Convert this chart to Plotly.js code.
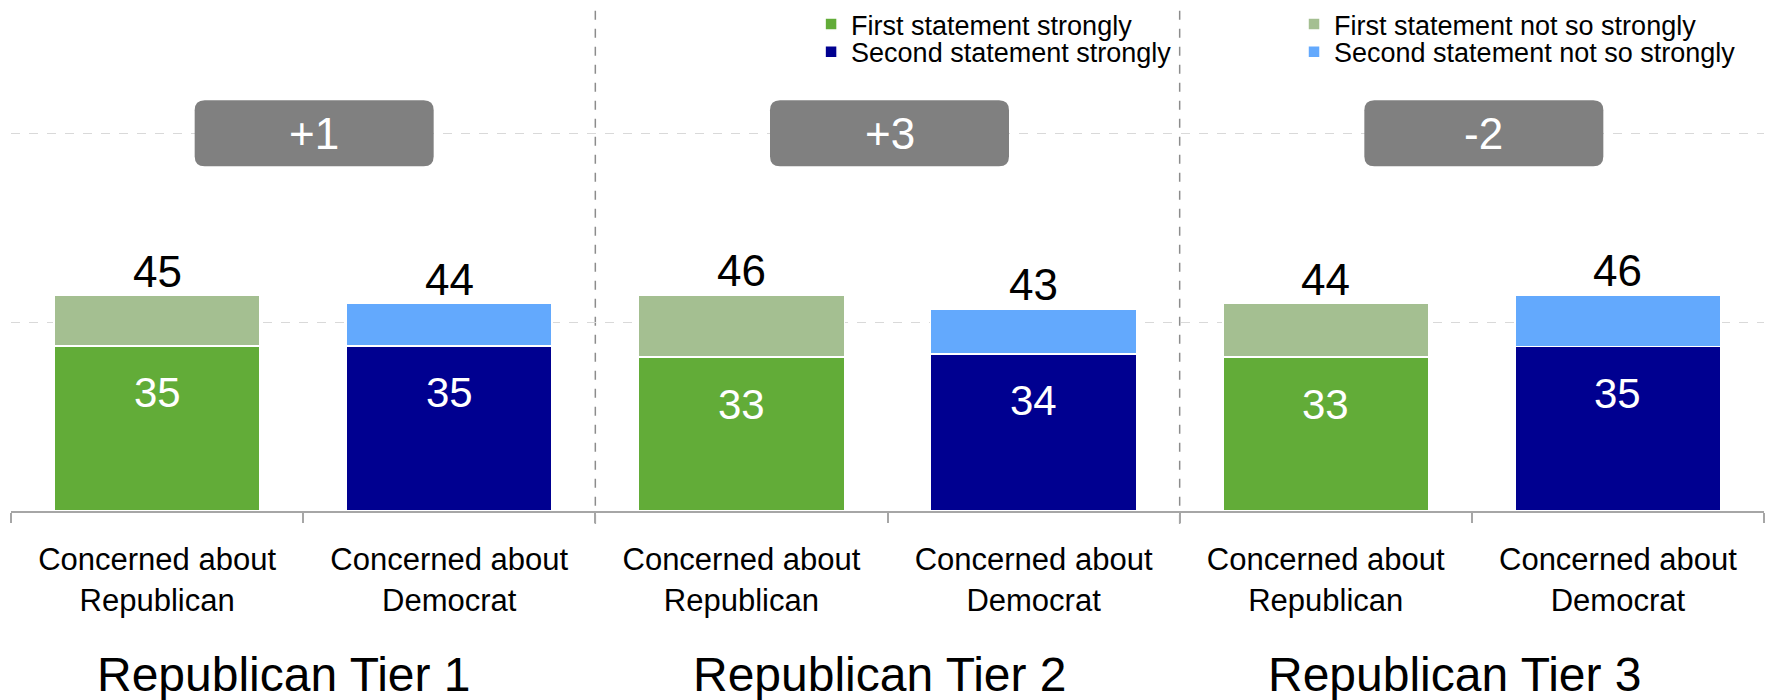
<!DOCTYPE html>
<html>
<head>
<meta charset="utf-8">
<script src="https://cdn.plot.ly/plotly-3.0.1.min.js"></script>
<style>html,body{margin:0;padding:0;background:#fff;}#chart{width:1780px;height:700px;}</style>
</head>
<body>
<div id="chart"></div>
<script>
// ---- data ----
const tiers = ['Republican Tier 1', 'Republican Tier 2', 'Republican Tier 3'];
const concernLabels = ['Concerned about<br>Republican', 'Concerned about<br>Democrat'];
// "Concerned about Republican" bars (first statement)
const firstStrongly = [35, 32.6, 32.6];
const firstNotSoStrongly = [10.7, 13.2, 11.4];
// "Concerned about Democrat" bars (second statement)
const secondStrongly = [35, 33.3, 34.8];
const secondNotSoStrongly = [9, 9.5, 11];
// printed labels
const firstStronglyLabels = [35, 33, 33];
const secondStronglyLabels = [35, 34, 35];
const firstTotalLabels = [45, 46, 44];
const secondTotalLabels = [44, 43, 46];
const netDiff = ['+1', '+3', '-2'];
const seriesNames = ['First statement strongly', 'Second statement strongly',
                     'First statement not so strongly', 'Second statement not so strongly'];

// ---- derived ----
const repKeys = tiers.map((t, i) => 'T' + (i + 1) + '-R');
const demKeys = tiers.map((t, i) => 'T' + (i + 1) + '-D');
const allKeys = [];
const allText = [];
tiers.forEach((t, i) => {
  allKeys.push(repKeys[i], demKeys[i]);
  allText.push(concernLabels[0], concernLabels[1]);
});
const firstTotal = firstStrongly.map((v, i) => v + firstNotSoStrongly[i]);
const secondTotal = secondStrongly.map((v, i) => v + secondNotSoStrongly[i]);

const FONT = 'Arial, "Liberation Sans", sans-serif';
const C_FS = '#62ac38', C_FN = '#a4bf91', C_SS = '#000090', C_SN = '#63a9fd';

function barTrace(name, x, y, color, legend) {
  return {
    type: 'bar', name: name, x: x, y: y, legend: legend,
    marker: {color: color, line: {color: '#ffffff', width: 1.5}},
    hoverinfo: 'x+y+name'
  };
}

const data = [
  barTrace(seriesNames[0], repKeys, firstStrongly, C_FS, 'legend'),
  barTrace(seriesNames[1], demKeys, secondStrongly, C_SS, 'legend2'),
  barTrace(seriesNames[2], repKeys, firstNotSoStrongly, C_FN, 'legend3'),
  barTrace(seriesNames[3], demKeys, secondNotSoStrongly, C_SN, 'legend4')
];

// layout-only position tweaks
const tierShift = [-19, -8, -17];
const badgeShift = [11, 2, 12];

const annotations = [];
tiers.forEach((t, i) => {
  annotations.push({x: repKeys[i], y: firstTotal[i], text: String(firstTotalLabels[i]), showarrow: false,
    yanchor: 'middle', yshift: 24, font: {family: FONT, size: 44, color: '#000'}});
  annotations.push({x: demKeys[i], y: secondTotal[i], text: String(secondTotalLabels[i]), showarrow: false,
    yanchor: 'middle', yshift: 24, font: {family: FONT, size: 44, color: '#000'}});
  annotations.push({x: repKeys[i], y: firstStrongly[i], text: String(firstStronglyLabels[i]), showarrow: false,
    yanchor: 'middle', yshift: -47, font: {family: FONT, size: 42, color: '#fff'}});
  annotations.push({x: demKeys[i], y: secondStrongly[i], text: String(secondStronglyLabels[i]), showarrow: false,
    yanchor: 'middle', yshift: -47, font: {family: FONT, size: 42, color: '#fff'}});
  annotations.push({x: i * 2 + 0.5, xref: 'x', y: -0.322, yref: 'paper', text: t, showarrow: false,
    xanchor: 'center', yanchor: 'middle', xshift: tierShift[i], font: {family: FONT, size: 48, color: '#000'}});
  annotations.push({x: i * 2 + 0.5, y: 80, text: netDiff[i], showarrow: false, xshift: badgeShift[i],
    xanchor: 'center', yanchor: 'middle', font: {family: FONT, size: 44, color: '#fff'}});
});

const shapes = [];
[1.5, 3.5].forEach(xv => shapes.push({type: 'line', xref: 'x', yref: 'paper', x0: xv, x1: xv, y0: -0.025, y1: 1,
  line: {color: '#8c8c8c', width: 1.5, dash: 'dash'}, layer: 'below'}));
function roundRect(cx, w, h, r) {
  const x0 = cx - w / 2, x1 = cx + w / 2, y0 = -h / 2, y1 = h / 2;
  return `M${x0 + r},${y0} L${x1 - r},${y0} Q${x1},${y0} ${x1},${y0 + r} L${x1},${y1 - r} Q${x1},${y1} ${x1 - r},${y1} ` +
         `L${x0 + r},${y1} Q${x0},${y1} ${x0},${y1 - r} L${x0},${y0 + r} Q${x0},${y0} ${x0 + r},${y0} Z`;
}
tiers.forEach((t, i) => {
  shapes.push({type: 'path', xref: 'x', yref: 'y', xsizemode: 'pixel', ysizemode: 'pixel',
    xanchor: i * 2 + 0.5, yanchor: 80, path: roundRect(badgeShift[i], 239, 66, 10),
    fillcolor: '#808080', line: {width: 0}, layer: 'above'});
});

function legendAt(x, y) {
  return {x: x, y: y, xanchor: 'left', yanchor: 'middle', orientation: 'v', traceorder: 'normal',
    bgcolor: 'rgba(0,0,0,0)', font: {family: FONT, size: 27, color: '#000'}};
}

const layout = {
  width: 1780, height: 700,
  margin: {l: 11, r: 16, t: 0, b: 189},
  paper_bgcolor: '#fff', plot_bgcolor: '#fff',
  barmode: 'stack', bargap: 0.295,
  font: {family: FONT, color: '#000'},
  xaxis: {
    type: 'category', categoryorder: 'array', categoryarray: allKeys,
    tickmode: 'array', tickvals: allKeys, ticktext: allText,
    tickson: 'boundaries', ticks: 'outside', ticklen: 10, tickwidth: 2, tickcolor: '#a6a6a6',
    showline: true, linecolor: '#a6a6a6', linewidth: 2,
    showgrid: false, ticklabelstandoff: 20,
    tickfont: {family: FONT, size: 31, color: '#000'}
  },
  yaxis: {
    range: [0, 107.4], dtick: 40, tick0: 0, showticklabels: false, ticks: '',
    showgrid: true, gridcolor: '#d9d9d9', griddash: 'dash', gridwidth: 1,
    zeroline: false, showline: false
  },
  legend: legendAt(0.4564, 0.960),
  legend2: legendAt(0.4564, 0.905),
  legend3: legendAt(0.7319, 0.960),
  legend4: legendAt(0.7319, 0.905),
  annotations: annotations,
  shapes: shapes,
  showlegend: true
};

Plotly.newPlot('chart', data, layout, {displayModeBar: false, staticPlot: true});
</script>
</body>
</html>
